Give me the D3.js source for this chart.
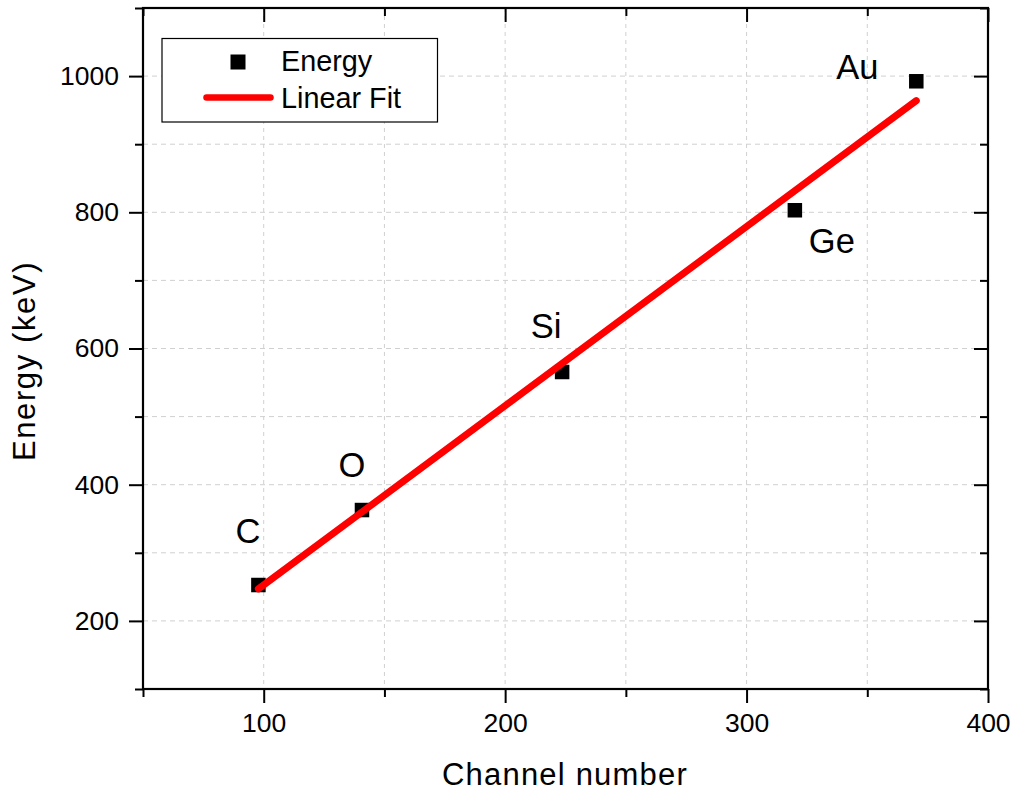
<!DOCTYPE html>
<html>
<head>
<meta charset="utf-8">
<script src="https://cdn.jsdelivr.net/npm/d3@7/dist/d3.min.js"></script>
<style>
  html, body { margin: 0; padding: 0; background: #fff; }
  svg { display: block; font-family: "Liberation Sans", Arimo, Arial, sans-serif; }
</style>
</head>
<body>
<script>
// ---- data ----
const elements = ["C", "O", "Si", "Ge", "Au"];
const channel = [97.8, 140.7, 223.6, 320.0, 370.3];
const energy = [252.7, 362.8, 565.5, 803.0, 992.4];
const fitChannel = [97.8, 370.3];
const fitEnergy = [247, 964];
const xTickValues = [100, 200, 300, 400];
const xMinorValues = [50, 150, 250, 350];
const yTickValues = [200, 400, 600, 800, 1000];
const yMinorValues = [100, 300, 500, 700, 900, 1100];
const legendLabels = ["Energy", "Linear Fit"];
// label offsets (px) relative to each point: [dx of label centre, dy of baseline]
const labelOffsets = [[-10.5, -42], [-10, -33], [-16, -34], [37, 43], [-59, -2]];

(function () {
const W = 1013, H = 791;
const pLeft = 143, pRight = 988, pTop = 8, pBottom = 689;
const FONT = "'Liberation Sans', Arimo, Arial, sans-serif";

const svg = d3.select("body").append("svg").attr("width", W).attr("height", H);

const x = d3.scaleLinear().domain([50, 400]).range([pLeft, pRight]);
const y = d3.scaleLinear().domain([100, 1100]).range([pBottom, pTop]);

// grid
const gridColor = "#d0d0d0";
const g = svg.append("g");
g.selectAll("line.vg").data([...xTickValues, ...xMinorValues].filter(v => v > 50 && v < 400))
  .enter().append("line")
  .attr("x1", d => x(d)).attr("x2", d => x(d))
  .attr("y1", pTop).attr("y2", pBottom)
  .attr("stroke", gridColor).attr("stroke-width", 1).attr("stroke-dasharray", "4,4");
g.selectAll("line.hg").data([...yTickValues, ...yMinorValues].filter(v => v > 100 && v < 1100))
  .enter().append("line")
  .attr("x1", pLeft).attr("x2", pRight)
  .attr("y1", d => y(d)).attr("y2", d => y(d))
  .attr("stroke", gridColor).attr("stroke-width", 1).attr("stroke-dasharray", "5,4");

// axes
const MAJ = 14, MIN = 8;
function styleAxis(sel) {
  sel.attr("font-family", FONT);
  sel.select(".domain").remove();
  sel.selectAll("line").attr("stroke", "#000").attr("stroke-width", 2);
  sel.selectAll("text").attr("fill", "#000").style("font-size", "26.5px").style("font-family", FONT);
}
const xb = svg.append("g").attr("transform", `translate(0,${pBottom})`)
  .call(d3.axisBottom(x).tickValues(xTickValues).tickFormat(d3.format("d")).tickSize(MAJ).tickPadding(10));
styleAxis(xb);
const xbm = svg.append("g").attr("transform", `translate(0,${pBottom})`)
  .call(d3.axisBottom(x).tickValues(xMinorValues).tickFormat("").tickSize(MIN));
styleAxis(xbm);
const xt = svg.append("g").attr("transform", `translate(0,${pTop})`)
  .call(d3.axisBottom(x).tickValues(xTickValues).tickFormat("").tickSize(MAJ));
styleAxis(xt);
const xtm = svg.append("g").attr("transform", `translate(0,${pTop})`)
  .call(d3.axisBottom(x).tickValues(xMinorValues).tickFormat("").tickSize(MIN));
styleAxis(xtm);
const yl = svg.append("g").attr("transform", `translate(${pLeft},0)`)
  .call(d3.axisLeft(y).tickValues(yTickValues).tickFormat(d3.format("d")).tickSize(MAJ).tickPadding(10));
styleAxis(yl);
const ylm = svg.append("g").attr("transform", `translate(${pLeft},0)`)
  .call(d3.axisLeft(y).tickValues(yMinorValues).tickFormat("").tickSize(MIN));
styleAxis(ylm);
const yr = svg.append("g").attr("transform", `translate(${pRight},0)`)
  .call(d3.axisLeft(y).tickValues(yTickValues).tickFormat("").tickSize(MAJ));
styleAxis(yr);
const yrm = svg.append("g").attr("transform", `translate(${pRight},0)`)
  .call(d3.axisLeft(y).tickValues(yMinorValues).tickFormat("").tickSize(MIN));
styleAxis(yrm);

// frame
svg.append("rect").attr("x", pLeft).attr("y", pTop)
  .attr("width", pRight - pLeft).attr("height", pBottom - pTop)
  .attr("fill", "none").attr("stroke", "#000").attr("stroke-width", 2.2);

// axis titles
svg.append("text").attr("x", 565).attr("y", 785).attr("text-anchor", "middle")
  .style("font-size", "31px").style("letter-spacing", "1.2px").text("Channel number");
svg.append("text").attr("transform", "translate(35,361) rotate(-90)").attr("text-anchor", "middle")
  .style("font-size", "31px").style("letter-spacing", "1.6px").text("Energy (keV)");

// markers
const MS = 14.5;
svg.selectAll("rect.pt").data(channel).enter().append("rect")
  .attr("x", (d) => x(d) - MS / 2)
  .attr("y", (d, i) => y(energy[i]) - MS / 2)
  .attr("width", MS).attr("height", MS).attr("fill", "#000");

// fit line
const pts = fitChannel.map((c, i) => [x(c), y(fitEnergy[i])]);
svg.append("path").attr("d", d3.line()(pts))
  .attr("stroke", "#ff0000").attr("stroke-width", 7).attr("stroke-linecap", "round").attr("fill", "none");

// element labels
svg.selectAll("text.lab").data(elements).enter().append("text")
  .attr("x", (d, i) => x(channel[i]) + labelOffsets[i][0])
  .attr("y", (d, i) => y(energy[i]) + labelOffsets[i][1])
  .attr("text-anchor", "middle").style("font-size", "34.5px").text(d => d);

// legend
const lg = svg.append("g");
lg.append("rect").attr("x", 162).attr("y", 38.5).attr("width", 275.5).attr("height", 83.5)
  .attr("fill", "#fff").attr("stroke", "#000").attr("stroke-width", 1.2);
lg.append("rect").attr("x", 238 - 7.5).attr("y", 62 - 7.5).attr("width", 15).attr("height", 15).attr("fill", "#000");
lg.append("line").attr("x1", 206.5).attr("x2", 270.5).attr("y1", 97.5).attr("y2", 97.5)
  .attr("stroke", "#ff0000").attr("stroke-width", 6.5).attr("stroke-linecap", "round");
lg.append("text").attr("x", 281).attr("y", 71).style("font-size", "28.8px").text(legendLabels[0]);
lg.append("text").attr("x", 281).attr("y", 107.5).style("font-size", "28.8px").text(legendLabels[1]);
})();
</script>
</body>
</html>
